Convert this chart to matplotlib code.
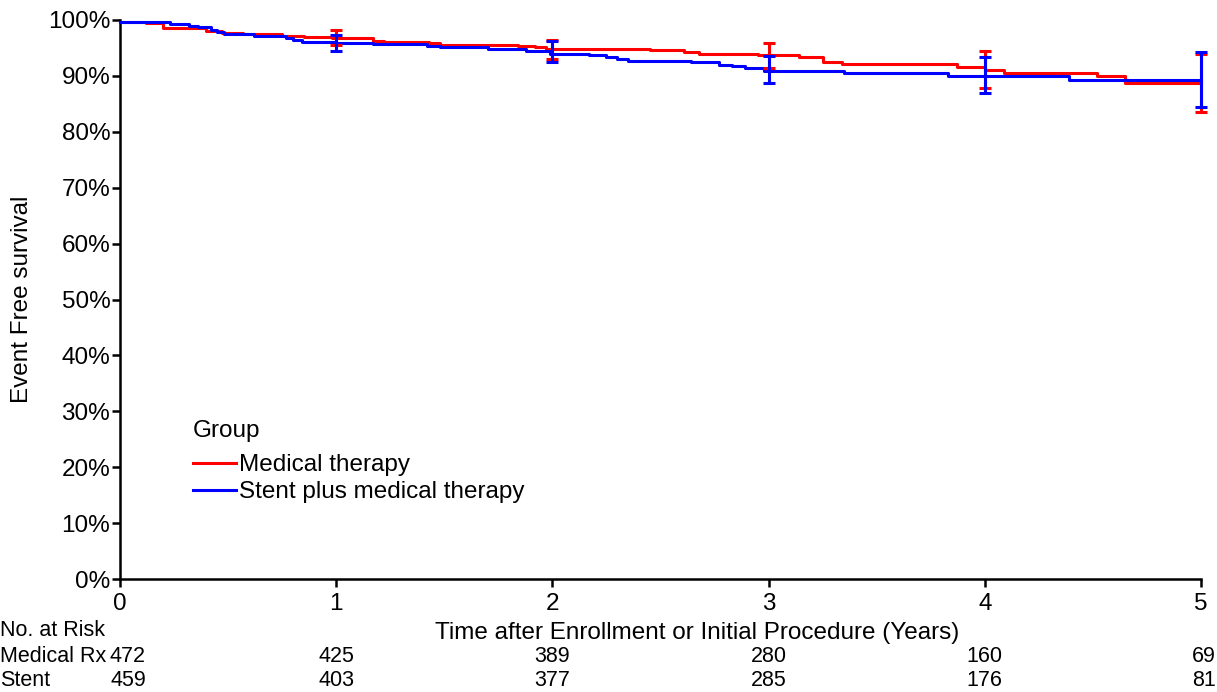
import matplotlib
matplotlib.use("Agg")
import matplotlib.pyplot as plt
from matplotlib.ticker import FuncFormatter
import matplotlib.transforms as mtrans

plt.rcParams['font.family'] = ['Liberation Sans', 'DejaVu Sans']

# Step curves (years, % event-free)
med_t = [0, 0.12, 0.20, 0.40, 0.47, 0.57, 0.75, 0.85, 0.98, 1.17, 1.22, 1.43, 1.48,
         1.84, 1.92, 1.97, 2.45, 2.61, 2.68, 2.95, 3.14, 3.25, 3.34, 3.87, 4.00,
         4.09, 4.52, 4.65, 5.0]
med_s = [99.7, 99.4, 98.5, 98.1, 97.7, 97.5, 97.1, 97.0, 96.7, 96.2, 96.1, 95.8, 95.6,
         95.4, 95.1, 94.8, 94.6, 94.3, 94.0, 93.7, 93.4, 92.5, 92.2, 91.6, 91.0,
         90.6, 89.9, 88.8, 88.8]

stent_t = [0, 0.23, 0.32, 0.36, 0.42, 0.45, 0.48, 0.62, 0.77, 0.80, 0.84, 0.99, 1.17,
           1.42, 1.48, 1.70, 1.88, 1.99, 2.17, 2.25, 2.30, 2.35, 2.64, 2.77, 2.83,
           2.89, 2.98, 3.35, 3.83, 4.39, 5.0]
stent_s = [99.7, 99.3, 99.0, 98.8, 98.3, 97.9, 97.5, 97.1, 96.7, 96.4, 96.1, 95.9, 95.7,
           95.4, 95.2, 94.8, 94.5, 94.0, 93.7, 93.4, 93.1, 92.7, 92.4, 92.0, 91.7,
           91.5, 90.9, 90.6, 90.0, 89.3, 89.3]

# Confidence intervals at yearly marks
ci_t = [1, 2, 3, 4, 5]
med_mid = [97.0, 94.8, 93.7, 91.0, 88.8]
med_lo = [95.6, 93.1, 91.5, 87.9, 83.6]
med_hi = [98.3, 96.5, 95.8, 94.5, 94.0]
stent_mid = [95.9, 94.0, 90.9, 90.0, 89.3]
stent_lo = [94.5, 92.4, 88.8, 86.9, 84.5]
stent_hi = [97.4, 96.2, 93.6, 93.3, 94.2]

# Numbers at risk
risk_t = [0, 1, 2, 3, 4, 5]
risk_med = [472, 425, 389, 280, 160, 69]
risk_stent = [459, 403, 377, 285, 176, 81]

RED = '#ff0000'
BLUE = '#0000ff'
FS = 17.5
FS_RISK = 15.5

fig = plt.figure(figsize=(12.17, 6.92), dpi=100)
ax = fig.add_axes([120 / 1217, 1 - 579 / 692, (1201 - 120) / 1217, (579 - 20) / 692])

ax.step(med_t, med_s, where='post', color=RED, lw=2.2, label='Medical therapy', clip_on=False, zorder=3)
ax.step(stent_t, stent_s, where='post', color=BLUE, lw=2.2, label='Stent plus medical therapy', clip_on=False, zorder=4)

def errs(mid, lo, hi):
    return [[m - l for m, l in zip(mid, lo)], [h - m for m, h in zip(mid, hi)]]

ax.errorbar(ci_t, med_mid, yerr=errs(med_mid, med_lo, med_hi), fmt='none', ecolor=RED,
            elinewidth=2.2, capsize=4, capthick=2.2, clip_on=False, zorder=5)
ax.errorbar(ci_t, stent_mid, yerr=errs(stent_mid, stent_lo, stent_hi), fmt='none', ecolor=BLUE,
            elinewidth=2.2, capsize=4, capthick=2.2, clip_on=False, zorder=6)

ax.set_xlim(0, 5)
ax.set_ylim(0, 100)
ax.set_xticks(range(6))
ax.set_yticks(range(0, 101, 10))
ax.yaxis.set_major_formatter(FuncFormatter(lambda v, p: f'{int(v)}%'))
for s in ['top', 'right']:
    ax.spines[s].set_visible(False)
for s in ['left', 'bottom']:
    ax.spines[s].set_linewidth(1.8)
ax.tick_params(axis='both', direction='out', length=6, width=1.8, labelsize=FS, pad=1)
ax.tick_params(axis='x', pad=4)

ax.set_ylabel('Event Free survival', fontsize=FS, labelpad=11)
ax.set_xlabel('Time after Enrollment or Initial Procedure (Years)', fontsize=FS, labelpad=5)
ax.xaxis.label.set_x(0.534)

leg = ax.legend(title='Group', loc='upper left', bbox_to_anchor=(0.0675, 0.285), frameon=False,
                fontsize=FS, title_fontsize=FS, handlelength=1.75, handletextpad=0.15,
                labelspacing=0.2, borderaxespad=0, borderpad=0)
leg._legend_box.align = 'left'
leg._legend_box.sep = 9
for line in leg.get_lines():
    line.set_linewidth(2.2)

# Number at risk table
trans = mtrans.blended_transform_factory(ax.transData, fig.transFigure)
fig.text(0.0, 1 - 630 / 692, 'No. at Risk', fontsize=FS_RISK, va='center', ha='left')
fig.text(0.0, 1 - 657 / 692, 'Medical Rx', fontsize=FS_RISK, va='center', ha='left')
fig.text(0.0, 1 - 681 / 692, 'Stent', fontsize=FS_RISK, va='center', ha='left')
for t, m, s in zip(risk_t, risk_med, risk_stent):
    off = mtrans.offset_copy(trans, fig=fig, x=8 if t == 0 else (3 if t == 5 else 0), units='dots')
    ax.text(t, 1 - 657 / 692, str(m), fontsize=FS_RISK, va='center', ha='center', transform=off)
    ax.text(t, 1 - 681 / 692, str(s), fontsize=FS_RISK, va='center', ha='center', transform=off)

fig.savefig('out.png', dpi=100)
